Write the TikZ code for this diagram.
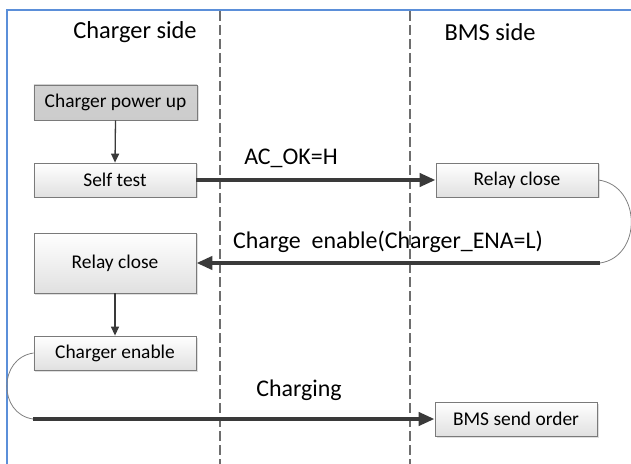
\documentclass[tikz,border=0pt]{standalone}
\usepackage{fontspec}
\setmainfont{Carlito}
\usetikzlibrary{arrows.meta,shadows}
\definecolor{frameblue}{HTML}{5B8FD9}
\definecolor{darkline}{HTML}{3A3A3A}
\definecolor{boxedge}{HTML}{7A7A7A}
\definecolor{lanegray}{HTML}{6E6E6E}
\tikzset{
  box/.style={draw=boxedge, line width=0.8bp, top color=white, bottom color=black!12,
    minimum width=162bp, minimum height=34bp, inner sep=0pt,
    font=\fontsize{19.5}{22}\selectfont,
    drop shadow={opacity=0.25, shadow xshift=1.5bp, shadow yshift=-1.5bp}},
  title/.style={font=\fontsize{24.5}{28}\selectfont, inner sep=0pt},
  siglabel/.style={font=\fontsize{24}{28}\selectfont, inner sep=0pt},
  thinarrow/.style={draw=darkline, line width=1.3bp, -{Triangle[length=9bp,width=8bp]}},
  thickarrow/.style={draw=darkline, line width=4bp, -{Triangle[length=16bp,width=13bp]}},
  loopline/.style={draw=gray, line width=0.8bp},
  lane/.style={draw=lanegray, line width=1.1bp, dash pattern=on 10bp off 4bp},
}
\begin{document}
\begin{tikzpicture}[x=1bp,y=-1bp]
\useasboundingbox (0,0) rectangle (631,464);
% frame
\draw[frameblue, line width=2bp] (6.5,470) -- (6.5,10.5) -- (640,10.5);
% lanes
\draw[lane] (220,11) -- (220,464);
\draw[lane] (410,11) -- (410,464);
% titles
\node[title] (t1) at (135,32) {Charger side};
\node[title] (t2) at (490,32) {BMS side};
% boxes
\node[box, top color=black!18, bottom color=black!20, minimum width=163bp, minimum height=35bp] (pu) at (115.5,102.5) {Charger power up};
\node[box] (st) at (115,180) {Self test};
\node[box] (rcb) at (517,180) {Relay close};
\node[box, minimum height=60bp] (rcc) at (115,263) {Relay close};
\node[box] (ce) at (115,353) {Charger enable};
\node[box] (bso) at (516,419) {BMS send order};
% arrows
\draw[thinarrow] (pu.south) -- (st.north);
\draw[thinarrow] (rcc.south) -- (ce.north);
\draw[thickarrow] (st.east) -- (rcb.west);
\coordinate (cestart) at (600,263);
\draw[loopline] (rcb.east) .. controls (642,186) and (642,257) .. (cestart);
\draw[thickarrow] (cestart) -- (rcc.east);
\coordinate (chstart) at (33,419);
\draw[loopline] (ce.west) .. controls (-2,358) and (-2,414) .. (chstart);
\draw[thickarrow] (chstart) -- (bso.west);
% labels
\node[siglabel] (l1) at (291,158) {AC\_OK=H};
\node[siglabel] (l2) at (388,242) {Charge\ \ enable(Charger\_ENA=L)};
\node[siglabel] (l3) at (299,390) {Charging};
\end{tikzpicture}
\end{document}
